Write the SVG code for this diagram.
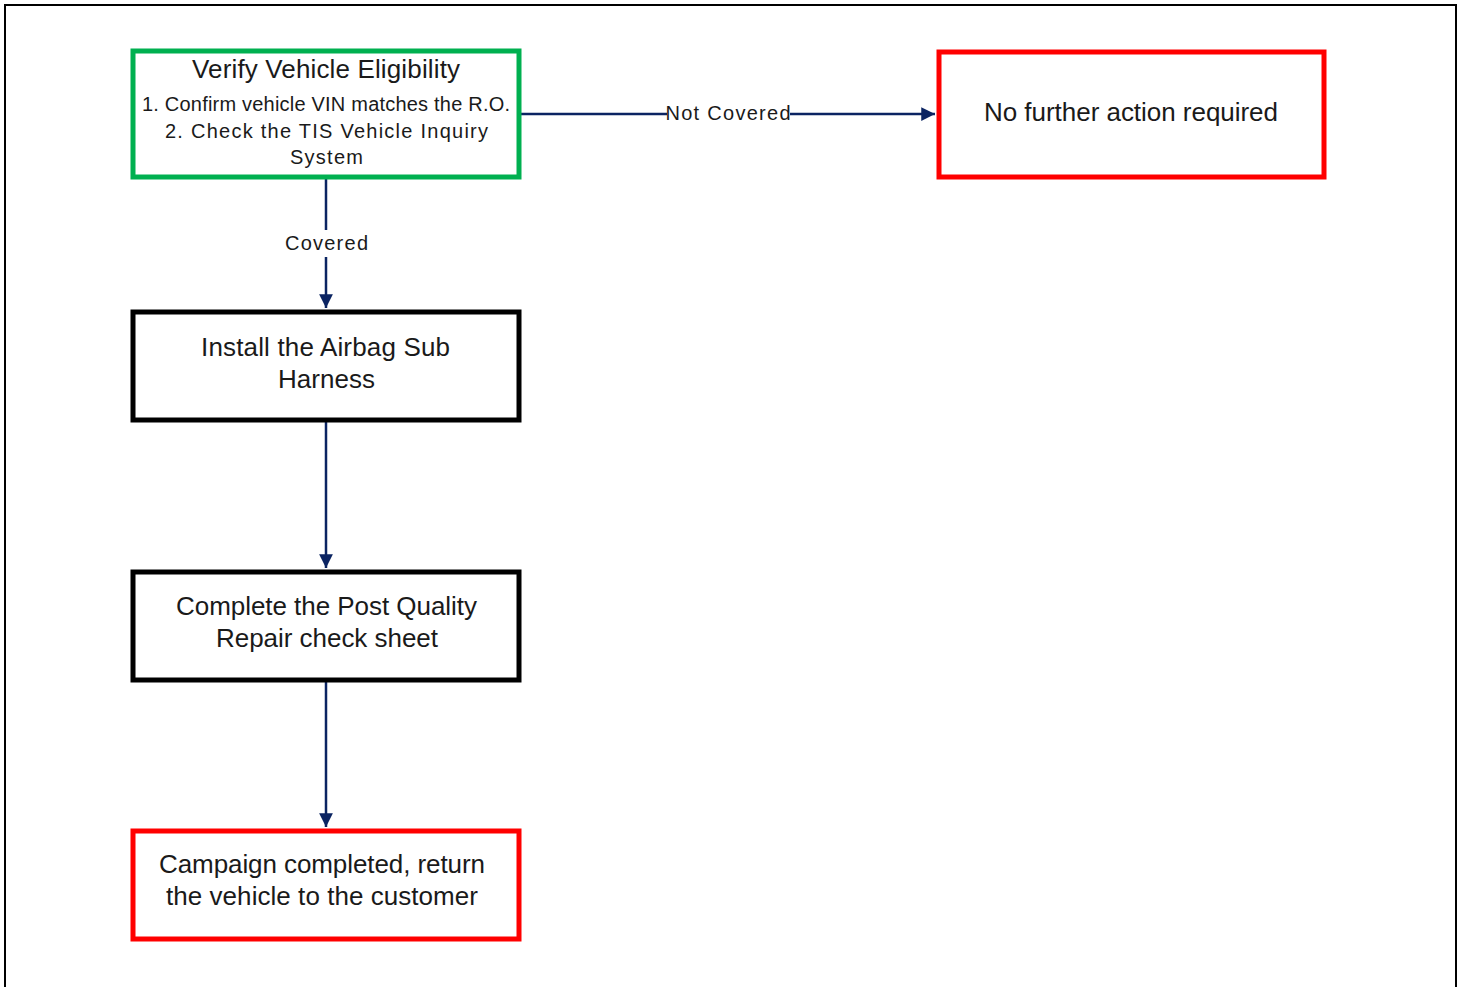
<svg xmlns="http://www.w3.org/2000/svg" width="1463" height="987" viewBox="0 0 1463 987">
<style>
.box{fill:#fff;stroke-width:5}
.green{stroke:#00b050}
.red{stroke:#ff0000}
.black{stroke:#000}
.t{font-family:"Liberation Sans",Arial,sans-serif;fill:#1a1a1a;text-anchor:middle}
.big{font-size:26px}
.small{font-size:20px}
.lbl{font-family:"Liberation Sans",Arial,sans-serif;font-size:20px;fill:#1a1a1a;text-anchor:middle}
.conn{stroke:#0b2462;stroke-width:2.5;fill:none}
</style>
<defs>
<marker id="arr" viewBox="0 0 10 10" refX="10" refY="5" markerWidth="5.5" markerHeight="5.5" orient="auto" markerUnits="strokeWidth">
<path d="M0,0 L10,5 L0,10 z" fill="#0b2462"/>
</marker>
</defs>
<rect width="1463" height="987" fill="#fff"/>
<path d="M5,990 V5 H1456 V990" fill="none" stroke="#000" stroke-width="2"/>
<g id="connectors">
<line class="conn" x1="521" y1="114" x2="935" y2="114" marker-end="url(#arr)"/>
<rect x="667" y="102" width="123" height="24" fill="#fff"/>
<text class="lbl" x="728" y="120" textLength="125" lengthAdjust="spacing">Not Covered</text>
<line class="conn" x1="326" y1="178" x2="326" y2="308" marker-end="url(#arr)"/>
<rect x="282" y="230" width="90" height="27" fill="#fff"/>
<text class="lbl" x="326.5" y="250" textLength="83" lengthAdjust="spacing">Covered</text>
<line class="conn" x1="326" y1="421" x2="326" y2="568" marker-end="url(#arr)"/>
<line class="conn" x1="326" y1="681" x2="326" y2="827" marker-end="url(#arr)"/>
</g>
<g id="verify">
<rect class="box green" x="133" y="51" width="386" height="126"/>
<text class="t big" x="326" y="78" textLength="268" lengthAdjust="spacing">Verify Vehicle Eligibility</text>
<text class="t small" x="326" y="111" textLength="368" lengthAdjust="spacing">1. Confirm vehicle VIN matches the R.O.</text>
<text class="t small" x="326.5" y="138" textLength="323" lengthAdjust="spacing">2.  Check the TIS Vehicle Inquiry</text>
<text class="t small" x="326.5" y="164" textLength="73" lengthAdjust="spacing">System</text>
</g>
<g id="no-action">
<rect class="box red" x="939" y="52" width="385" height="125"/>
<text class="t big" x="1131" y="121" textLength="294" lengthAdjust="spacing">No further action required</text>
</g>
<g id="install">
<rect class="box black" x="133" y="312" width="386" height="108"/>
<text class="t big" x="325.5" y="356" textLength="249" lengthAdjust="spacing">Install the Airbag Sub</text>
<text class="t big" x="326.5" y="388" textLength="97" lengthAdjust="spacing">Harness</text>
</g>
<g id="complete">
<rect class="box black" x="133" y="572" width="386" height="108"/>
<text class="t big" x="326.5" y="615" textLength="301" lengthAdjust="spacing">Complete the Post Quality</text>
<text class="t big" x="327" y="647" textLength="222" lengthAdjust="spacing">Repair check sheet</text>
</g>
<g id="campaign">
<rect class="box red" x="133" y="831" width="386" height="108"/>
<text class="t big" x="322" y="873" textLength="326" lengthAdjust="spacing">Campaign completed, return</text>
<text class="t big" x="322" y="905" textLength="312" lengthAdjust="spacing">the vehicle to the customer</text>
</g>
</svg>
